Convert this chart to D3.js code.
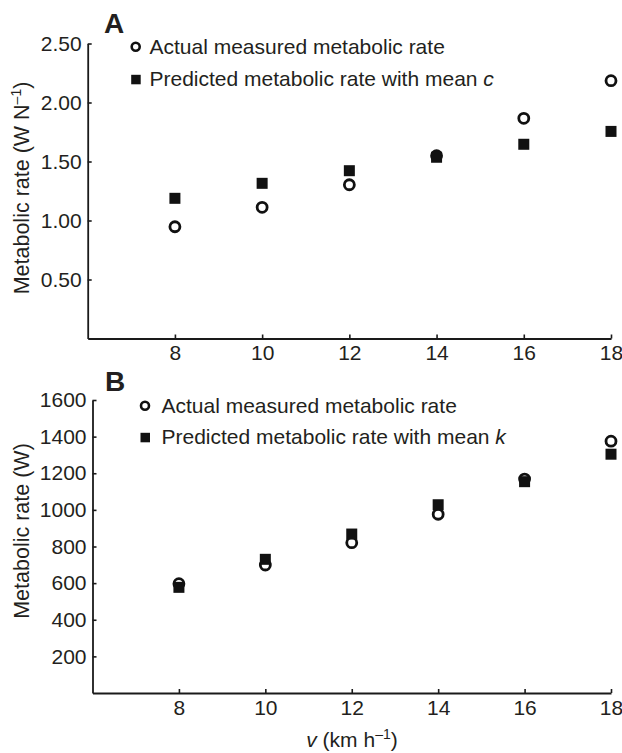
<!DOCTYPE html>
<html>
<head>
<meta charset="utf-8">
<script src="https://cdn.jsdelivr.net/npm/d3@7"></script>
<style>
  body { margin: 0; background: #fff; }
  svg { display: block; }
  text { font-family: "Liberation Sans", Arial, Helvetica, sans-serif; fill: #231f20; }
</style>
</head>
<body>
<svg id="chart" width="622" height="753"></svg>
<script>
// ---- Data ----
const speeds = [8, 10, 12, 14, 16, 18];                       // v (km h-1)
const actualA = [0.947, 1.112, 1.303, 1.549, 1.866, 2.185];    // W N-1
const predictedA = [1.188, 1.315, 1.422, 1.536, 1.646, 1.755]; // W N-1
const actualB = [597, 699, 821, 976, 1168, 1375];              // W
const predictedB = [577, 730, 868, 1028, 1154, 1304];          // W
const xTicks = [8, 10, 12, 14, 16, 18];
const yTicksA = [0.5, 1.0, 1.5, 2.0, 2.5];
const yTicksB = [200, 400, 600, 800, 1000, 1200, 1400, 1600];

const svg = d3.select("#chart");
const ink = "#111";
const axisColor = "#1a1a1a";
const fs = "21px";

function drawPanel(cfg) {
  const x = d3.scaleLinear().domain([6, 18]).range([cfg.left, 611]);
  const y = d3.scaleLinear().domain(cfg.yDomain).range([cfg.bottom, cfg.top]);
  const g = svg.append("g");

  const xAxis = g.append("g")
    .attr("transform", `translate(0,${cfg.bottom})`)
    .call(d3.axisBottom(x).tickValues(xTicks).tickSizeInner(-4).tickSizeOuter(0).tickPadding(7));
  const yAxis = g.append("g")
    .attr("transform", `translate(${cfg.left},0)`)
    .call(d3.axisLeft(y).tickValues(cfg.yTicks).tickFormat(cfg.fmt).tickSizeInner(-4).tickSizeOuter(0).tickPadding(6));

  [xAxis, yAxis].forEach(a => {
    a.attr("font-size", null).attr("font-family", null);
    a.selectAll("path.domain").attr("stroke", axisColor).attr("stroke-width", 1.8);
    a.selectAll(".tick line").attr("stroke", axisColor).attr("stroke-width", 1.6);
    a.selectAll(".tick text").style("font-size", fs).attr("fill", "#231f20");
  });

  // circles first, squares on top
  g.append("g").selectAll("circle")
    .data(speeds.map((s, i) => [s, cfg.actual[i]]))
    .join("circle")
    .attr("cx", d => x(d[0]))
    .attr("cy", d => y(d[1]))
    .attr("r", 5)
    .attr("fill", "none")
    .attr("stroke", ink)
    .attr("stroke-width", 2.8);

  const sq = 11;
  g.append("g").selectAll("rect")
    .data(speeds.map((s, i) => [s, cfg.predicted[i]]))
    .join("rect")
    .attr("x", d => x(d[0]) - sq / 2)
    .attr("y", d => y(d[1]) - sq / 2)
    .attr("width", sq)
    .attr("height", sq)
    .attr("fill", ink);

  // panel letter
  g.append("text")
    .attr("x", cfg.letterX).attr("y", cfg.letterY)
    .style("font-size", "28px").style("font-weight", "bold")
    .attr("fill", "#231f20")
    .text(cfg.letter);

  // legend
  const L = cfg.legend;
  g.append("circle").attr("cx", L.mx).attr("cy", L.y1)
    .attr("r", 4).attr("fill", "none").attr("stroke", ink).attr("stroke-width", 2.6);
  g.append("rect").attr("x", L.mx - 4.5).attr("y", L.y2 - 4.5)
    .attr("width", 9.5).attr("height", 9.5).attr("fill", ink);
  g.append("text").attr("x", L.tx).attr("y", L.y1 + 7)
    .style("font-size", fs).text("Actual measured metabolic rate");
  const t2 = g.append("text").attr("x", L.tx).attr("y", L.y2 + 7).style("font-size", fs);
  t2.append("tspan").text("Predicted metabolic rate with mean ");
  t2.append("tspan").style("font-style", "italic").text(cfg.param);

  // y title
  const yt = g.append("text")
    .attr("transform", `translate(28.5,${cfg.titleY}) rotate(-90)`)
    .attr("text-anchor", "middle")
    .style("font-size", "21.5px");
  yt.append("tspan").text(cfg.titleMain);
  if (cfg.titleSup) {
    yt.append("tspan").attr("dy", -8).style("font-size", "14px").text(cfg.titleSup);
    yt.append("tspan").attr("dy", 8).text(")");
  }
}

drawPanel({
  left: 87.7, top: 43.5, bottom: 338.5, yDomain: [0, 2.5],
  yTicks: yTicksA, fmt: d3.format(".2f"),
  actual: actualA, predicted: predictedA,
  letter: "A", letterX: 104, letterY: 33,
  legend: { mx: 135.7, tx: 149.5, y1: 46.7, y2: 79.3 },
  param: "c",
  titleY: 188, titleMain: "Metabolic rate (W N", titleSup: "\u20131"
});

drawPanel({
  left: 92.5, top: 400, bottom: 693, yDomain: [0, 1600],
  yTicks: yTicksB, fmt: d3.format("d"),
  actual: actualB, predicted: predictedB,
  letter: "B", letterX: 105, letterY: 391,
  legend: { mx: 145, tx: 161.5, y1: 405.7, y2: 437.3 },
  param: "k",
  titleY: 531, titleMain: "Metabolic rate (W)", titleSup: null
});

// x title
const xt = svg.append("text")
  .attr("x", 352).attr("y", 747)
  .attr("text-anchor", "middle")
  .style("font-size", "21px");
xt.append("tspan").style("font-style", "italic").text("v");
xt.append("tspan").text(" (km h");
xt.append("tspan").attr("dy", -8).style("font-size", "14px").text("\u20131");
xt.append("tspan").attr("dy", 8).text(")");
</script>
</body>
</html>
